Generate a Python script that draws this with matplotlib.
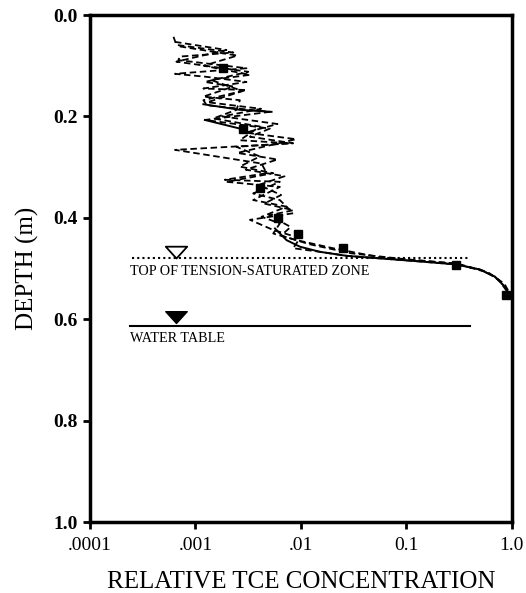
import numpy as np
import matplotlib
matplotlib.use("Agg")
import matplotlib.pyplot as plt
from matplotlib.path import Path

plt.rcParams['font.family'] = ['Liberation Serif', 'DejaVu Serif']

# ---- data ----
x_ticks = [1e-4, 1e-3, 1e-2, 1e-1, 1.0]
x_ticklabels = [".0001", ".001", ".01", "0.1", "1.0"]
y_ticks = [0.0, 0.2, 0.4, 0.6, 0.8, 1.0]
y_ticklabels = ["0.0", "0.2", "0.4", "0.6", "0.8", "1.0"]

# dashed simulated profiles (relative concentration, depth m)
dashA_conc = [0.00062, 0.00066, 0.00229, 0.00071, 0.00069, 0.00305, 0.00064, 0.00128,
              0.00305, 0.00119, 0.00305, 0.00119, 0.00128, 0.00508, 0.00123, 0.00508,
              0.00329, 0.00845, 0.00064, 0.00424, 0.00473, 0.0019, 0.00632, 0.00353,
              0.00632, 0.00845, 0.00329, 0.00547, 0.0098, 0.00845, 0.0151, 0.0271,
              0.0561, 0.116, 0.299, 0.498, 0.69, 0.86, 0.957]
dashA_depth = [0.043, 0.059, 0.074, 0.082, 0.089, 0.105, 0.116, 0.122,
               0.132, 0.145, 0.148, 0.168, 0.178, 0.191, 0.207, 0.224,
               0.240, 0.253, 0.266, 0.293, 0.312, 0.325, 0.329, 0.352,
               0.365, 0.391, 0.404, 0.424, 0.440, 0.460, 0.467, 0.475,
               0.480, 0.485, 0.492, 0.502, 0.516, 0.536, 0.552]

dashB_conc = [0.00064, 0.00197, 0.00066, 0.00317, 0.00123, 0.00229, 0.00119, 0.00264,
              0.00245, 0.00148, 0.00408, 0.00264, 0.00787, 0.00245, 0.00408, 0.00264,
              0.00547, 0.00197, 0.00632, 0.00353, 0.00731, 0.00424, 0.00632, 0.00547,
              0.0091, 0.0202, 0.0561, 0.116, 0.299, 0.55, 0.75, 0.90]
dashB_depth = [0.053, 0.069, 0.092, 0.112, 0.132, 0.141, 0.161, 0.168,
               0.187, 0.204, 0.220, 0.247, 0.253, 0.260, 0.279, 0.299,
               0.312, 0.329, 0.339, 0.365, 0.378, 0.398, 0.411, 0.431,
               0.444, 0.460, 0.478, 0.483, 0.490, 0.505, 0.522, 0.545]

dashC_conc = [0.00071, 0.0025, 0.0012, 0.0033, 0.0014, 0.0028, 0.0013, 0.0042,
              0.0018, 0.0060, 0.0030, 0.0090, 0.0040, 0.0025, 0.0060, 0.0030,
              0.0070, 0.0040, 0.0065, 0.0045, 0.0085, 0.0050, 0.0080, 0.0065,
              0.012, 0.030, 0.10, 0.30, 0.60, 0.85, 0.95]
dashC_depth = [0.062, 0.080, 0.100, 0.118, 0.128, 0.150, 0.172, 0.185,
               0.200, 0.215, 0.232, 0.245, 0.262, 0.272, 0.285, 0.305,
               0.318, 0.335, 0.355, 0.372, 0.385, 0.395, 0.418, 0.435,
               0.452, 0.470, 0.482, 0.491, 0.508, 0.530, 0.548]

# solid model profile
solid_conc = [0.00119, 0.00264, 0.00527, np.nan, 0.00123, 0.00264, np.nan,
              0.00568, 0.00731, 0.0098, 0.0151, 0.0271, 0.0561, 0.116, 0.299,
              0.498, 0.69, 0.86, 0.957]
solid_depth = [0.176, 0.187, 0.191, np.nan, 0.207, 0.224, np.nan,
               0.421, 0.444, 0.457, 0.467, 0.475, 0.480, 0.485, 0.492,
               0.502, 0.516, 0.536, 0.552]

# measured data (squares)
meas_conc = [0.00184, 0.00284, 0.00408, 0.0061, 0.0094, 0.0252, 0.294, 0.88]
meas_depth = [0.105, 0.224, 0.342, 0.401, 0.431, 0.460, 0.493, 0.552]

# reference levels
tension_depth = 0.480
water_table_depth = 0.613
level_x_start = 0.00025
level_x_end = 0.40
marker_x = 0.00066

fig = plt.figure(figsize=(5.26, 5.93), dpi=100)
ax = fig.add_axes([0.171, 0.1197, 0.802, 0.855])

ax.set_xscale('log')
ax.set_xlim(1e-4, 1.0)
ax.set_ylim(1.0, 0.0)

dash = (0, (3.6, 2.0))
for xs, ys in [(dashA_conc, dashA_depth), (dashB_conc, dashB_depth),
               (dashC_conc, dashC_depth)]:
    ax.plot(xs, ys, color='black', lw=1.3, linestyle=dash)
ax.plot(solid_conc, solid_depth, color='black', lw=1.4, linestyle='-')
ax.plot(meas_conc, meas_depth, linestyle='none', marker='s', color='black',
        markersize=5.5)

# tension-saturated zone (dotted) and water table (solid)
ax.plot([level_x_start, level_x_end], [tension_depth, tension_depth],
        color='black', lw=1.5, linestyle=(0, (1, 1.5)))
ax.plot([level_x_start * 0.95, level_x_end], [water_table_depth, water_table_depth],
        color='black', lw=1.5)

tri = Path([(-1, 1.1), (1, 1.1), (0, 0), (-1, 1.1)],
           [Path.MOVETO, Path.LINETO, Path.LINETO, Path.CLOSEPOLY])
ax.plot([marker_x], [tension_depth], marker=tri, markersize=17,
        markerfacecolor='white', markeredgecolor='black', markeredgewidth=1.3,
        linestyle='none')
ax.plot([marker_x], [water_table_depth - 0.005], marker=tri, markersize=17,
        markerfacecolor='black', markeredgecolor='black', markeredgewidth=1.0,
        linestyle='none')

ax.text(0.00024, 0.506, "TOP OF TENSION-SATURATED ZONE", fontsize=10.2,
        ha='left', va='center')
ax.text(0.00024, 0.638, "WATER TABLE", fontsize=10.2, ha='left', va='center')

ax.set_xticks(x_ticks)
ax.set_xticklabels(x_ticklabels, fontsize=14)
ax.xaxis.set_minor_locator(matplotlib.ticker.NullLocator())
ax.set_yticks(y_ticks)
ax.set_yticklabels(y_ticklabels, fontsize=14, fontweight='bold')

ax.tick_params(axis='both', direction='out', length=5, width=2)
ax.tick_params(axis='x', pad=6)
ax.tick_params(axis='y', pad=4)

for sp in ax.spines.values():
    sp.set_linewidth(2.5)

ax.set_xlabel("RELATIVE TCE CONCENTRATION", fontsize=18, labelpad=12)
ax.set_ylabel("DEPTH (m)", fontsize=18, labelpad=10)

fig.savefig("out.png", dpi=100)
